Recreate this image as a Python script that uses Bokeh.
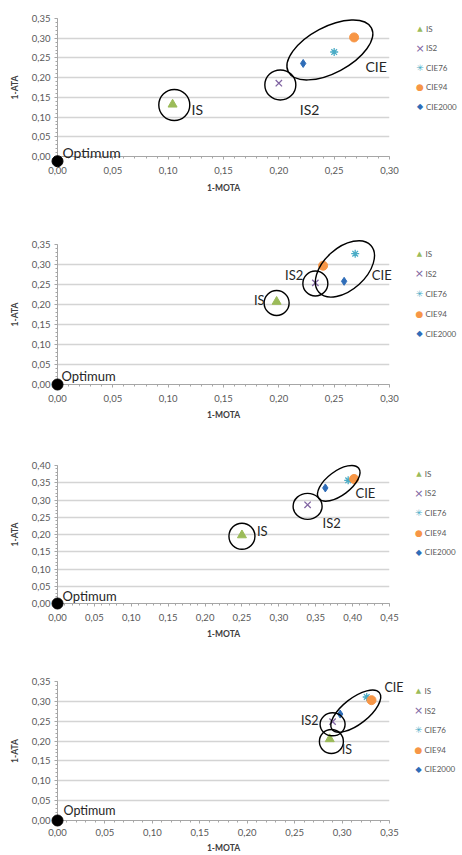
import math
from bokeh.plotting import figure
from bokeh.layouts import column
from bokeh.models import Range1d, FixedTicker, CustomJSTickFormatter
from bokeh.core.properties import value
from bokeh.embed import file_html
from bokeh.resources import INLINE

# ---------------- data ----------------
series_names = ["IS", "IS2", "CIE76", "CIE94", "CIE2000"]

mota_1 = [0.104, 0.200, 0.250, 0.268, 0.222]
ata_1 = [0.132, 0.186, 0.265, 0.302, 0.236]

mota_2 = [0.198, 0.233, 0.269, 0.240, 0.259]
ata_2 = [0.207, 0.254, 0.327, 0.297, 0.258]

mota_3 = [0.250, 0.339, 0.394, 0.402, 0.363]
ata_3 = [0.198, 0.286, 0.357, 0.361, 0.335]

mota_4 = [0.287, 0.290, 0.326, 0.331, 0.298]
ata_4 = [0.205, 0.249, 0.311, 0.303, 0.268]

optimum_mota = [0.0, 0.0, 0.0, 0.0]
optimum_ata = [-0.012, 0.0, 0.0, 0.0]

x_max = [0.30, 0.30, 0.45, 0.35]
y_max = [0.35, 0.35, 0.40, 0.35]
tick_step = 0.05

cluster_names = ["IS", "IS2", "CIE"]
cluster_members = [[0], [1], [2, 3, 4]]
optimum_name = "Optimum"
x_title = "1-MOTA"
y_title = "1-ATA"

# ---------------- styles ----------------
colors = ["#9BBB59", "#8064A2", "#4BACC6", "#F79646", "#2F6DB8"]
markers = ["triangle", "x", "asterisk", "circle", "diamond"]
msizes = [9, 9, 8, 9, 8]
# legend swatches drawn as text symbols (markers outside the frame are culled)
leg_symbols = ["\u25B2", "\u00D7", "\u2733", "\u25CF", "\u25C6"]
leg_sym_sizes = ["7px", "11px", "9px", "9px", "8px"]
FONT = "Lato"
W = 462

# per panel layout (screen px)
panels = [
    dict(h=228, left=57, fw=332, top=18, bottom=72, txt=14, tick_standoff=7, title_standoff=6,
         lab=[(19, -5, "left"), (21, -26, "left"), (35, -16, "left")], opt=(5, 9),
         ell=[(1.7, -0.5, 31, 31, 0), (1.5, -1.8, 31, 30, 0), (-0.6, 1.0, 94, 46, 28)],
         leg=(30.5, 10, 19.5)),
    dict(h=222, left=51, fw=340, top=16, bottom=66, txt=13, tick_standoff=7, title_standoff=5,
         lab=[(-12, 2, "right"), (-12, 8, "right"), (31, -7.6, "left")], opt=(4, 9),
         ell=[(0, -1.3, 25, 25, 0), (0, -0.6, 25, 25, 0), (4.2, -2.0, 70, 42, 42)],
         leg=(30.7, 9, 20)),
    dict(h=215, left=57, fw=336, top=15, bottom=62, txt=13, tick_standoff=7, title_standoff=5,
         lab=[(15, 4.5, "left"), (15, -17.7, "left"), (13, -11, "left")], opt=(5, 8),
         ell=[(0, -1.0, 26, 26, 0), (0, -1.5, 29, 26, 0), (-3.8, -0.9, 50, 24, 37)],
         leg=(29.7, 8, 19.7)),
    dict(h=190, left=53, fw=340, top=16, bottom=33, txt=12.5, tick_standoff=5, title_standoff=4,
         lab=[(12, -10.7, "left"), (-14, 1, "right"), (25, 16, "left")], opt=(6, 10),
         ell=[(1.7, -2.4, 24, 24, 0), (0, -2.7, 25, 23, 0), (-3.8, -7.5, 60, 26, 38)],
         leg=(29.7, 10, 19.7)),
]

all_x = [mota_1, mota_2, mota_3, mota_4]
all_y = [ata_1, ata_2, ata_3, ata_4]

fmt = CustomJSTickFormatter(code="return tick.toFixed(2).replace('.', ',');")


def ticks_for(vmax):
    n = int(round(vmax / tick_step))
    major = [round(k * tick_step, 2) for k in range(n + 1)]
    minor = [round(k * tick_step / 5, 3) for k in range(n * 5 + 1)]
    return FixedTicker(ticks=major, minor_ticks=minor)


def add_text(p, x, y, txt, dx, dy_up, align, size, color="#262626", font=FONT):
    r = p.text(x=[x], y=[y], text=[txt], x_offset=dx, y_offset=-dy_up,
               text_align=align, text_baseline="middle",
               text_font=value(font), text_font_size=value(size), text_color=color)
    r.level = "overlay"
    return r


def make_panel(i):
    cfg = panels[i]
    xs, ys = all_x[i], all_y[i]
    xm, ym = x_max[i], y_max[i]
    fh = cfg["h"] - cfg["top"] - cfg["bottom"]
    p = figure(width=W, height=cfg["h"],
               x_range=Range1d(0, xm), y_range=Range1d(0, ym),
               output_backend="svg", toolbar_location=None,
               min_border_left=cfg["left"], min_border_right=W - cfg["left"] - cfg["fw"],
               min_border_top=cfg["top"], min_border_bottom=cfg["bottom"])
    p.outline_line_color = None
    p.background_fill_color = "white"
    p.border_fill_color = "white"

    # axes
    for ax, t, vmax in ((p.xaxis[0], x_title, xm), (p.yaxis[0], y_title, ym)):
        ax.ticker = ticks_for(vmax)
        ax.formatter = fmt
        ax.axis_label = t
        ax.axis_label_text_font = FONT
        ax.axis_label_text_font_style = "bold"
        ax.axis_label_text_font_size = "8.5px"
        ax.axis_label_text_color = "#404040"
        ax.major_label_text_font = FONT
        ax.major_label_text_font_size = "9.5px"
        ax.major_label_text_color = "#595959"
        ax.axis_line_color = "#a6a6a6"
        ax.major_tick_line_color = "#a6a6a6"
        ax.minor_tick_line_color = "#a6a6a6"
        ax.major_tick_in = 0
        ax.major_tick_out = 3
        ax.minor_tick_in = 0
        ax.minor_tick_out = 2
    p.xaxis[0].major_label_standoff = cfg["tick_standoff"]
    p.xaxis[0].axis_label_standoff = cfg["title_standoff"]
    p.yaxis[0].major_label_standoff = 4
    p.yaxis[0].axis_label_standoff = 9
    p.xgrid.visible = False
    p.ygrid.grid_line_color = "#d4d4d4"
    p.ygrid.grid_line_width = 1.5

    # scale px per unit
    sx = cfg["fw"] / xm
    sy = fh / ym
    txt_size = f"{cfg['txt']}px"

    # series
    for k, name in enumerate(series_names):
        kw = dict(marker=markers[k], size=msizes[k], line_color=colors[k])
        if markers[k] in ("x", "asterisk"):
            kw.update(fill_color=None, line_width=1.3)
        else:
            kw.update(fill_color=colors[k], line_width=1)
        p.scatter([xs[k]], [ys[k]], **kw)

    # optimum point (not clipped at the frame)
    ro = p.scatter([optimum_mota[i]], [optimum_ata[i]], size=11, marker="circle",
                   fill_color="black", line_color="black")
    ro.level = "overlay"
    add_text(p, optimum_mota[i], optimum_ata[i], optimum_name,
             cfg["opt"][0], cfg["opt"][1], "left", txt_size)

    # clusters: ellipses and labels
    for c, (cname, mem) in enumerate(zip(cluster_names, cluster_members)):
        cx = sum(xs[m] for m in mem) / len(mem)
        cy = sum(ys[m] for m in mem) / len(mem)
        dx, dy, w, h, ang = cfg["ell"][c]
        re = p.ellipse(x=[cx + dx / sx], y=[cy + dy / sy], width=w, height=h,
                       width_units="screen", height_units="screen",
                       angle=math.radians(ang), fill_color=None,
                       line_color="black", line_width=1.4)
        re.level = "overlay"
        lx, ly, al = cfg["lab"][c]
        add_text(p, cx, cy, cname, lx, ly, al, txt_size)

    # legend drawn in the right margin (outside the frame)
    lgx, lgy, lstep = cfg["leg"]
    for k, name in enumerate(series_names):
        gx = xm + lgx / sx
        gy = ym - (lgy + k * lstep) / sy
        r = p.text(x=[gx], y=[gy], text=[leg_symbols[k]], text_align="center",
                   text_baseline="middle", text_font=value("DejaVu Sans"),
                   text_font_size=value(leg_sym_sizes[k]), text_color=colors[k])
        r.level = "overlay"
        add_text(p, gx, gy, name, 6, 0, "left", "8px", "#595959")
    return p


figs = [make_panel(i) for i in range(4)]
layout = column(*figs, spacing=0)

open("out.html", "w").write(file_html(layout, INLINE))
